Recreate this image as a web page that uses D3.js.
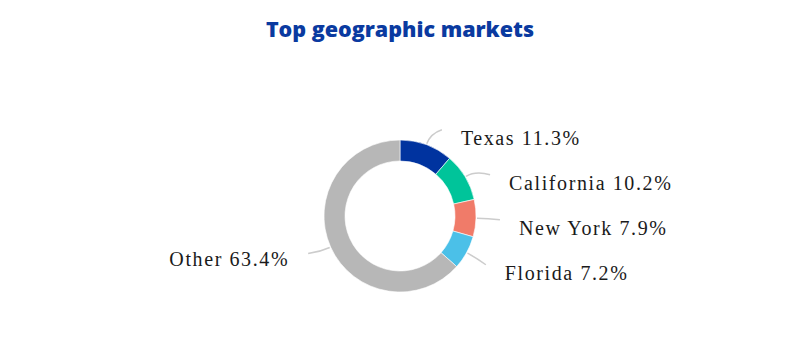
<!DOCTYPE html>
<html>
<head>
<meta charset="utf-8">
<script src="https://cdn.jsdelivr.net/npm/d3@7"></script>
<style>
  body { margin: 0; background: #fff; }
</style>
</head>
<body>
<div id="chart"></div>
<script>
const markets = ["Texas", "California", "New York", "Florida", "Other"];
const shares = [11.3, 10.2, 7.9, 7.2, 63.4];
const labels = ["Texas 11.3%", "California 10.2%", "New York 7.9%", "Florida 7.2%", "Other 63.4%"];
const colors = ["#00339f", "#00c49a", "#f07b69", "#4bc0e8", "#b7b7b7"];

const width = 800, height = 352;
const cx = 400, cy = 216;
const outerR = 76, innerR = 55;

const svg = d3.select("#chart").append("svg")
    .attr("width", width)
    .attr("height", height);

svg.append("text")
    .attr("x", width / 2)
    .attr("y", 37)
    .attr("text-anchor", "middle")
    .attr("fill", "#0a3aa0")
    .style("font-family", "'Open Sans', sans-serif")
    .style("font-weight", 800)
    .style("font-size", "21.5px")
    .text("Top geographic markets");

const data = markets.map((m, i) => ({ name: m, value: shares[i], label: labels[i], color: colors[i] }));

const pie = d3.pie().sort(null).value(d => d.value);
const arcs = pie(data);

const arc = d3.arc().innerRadius(innerR).outerRadius(outerR);

const g = svg.append("g").attr("transform", `translate(${cx},${cy})`);

g.selectAll("path.slice")
    .data(arcs)
    .enter().append("path")
    .attr("class", "slice")
    .attr("d", arc)
    .attr("fill", d => d.data.color)
    .attr("stroke", "#fff")
    .attr("stroke-width", 0.6);

// label layout: ideal y from mid angle, then spread out on each side
const polar = (r, a) => [r * Math.sin(a), -r * Math.cos(a)];
const rx = 100, ry = 95, gap = 45;
arcs.forEach(d => {
    d.mid = (d.startAngle + d.endAngle) / 2;
    d.side = Math.sin(d.mid) >= 0 ? 1 : -1;
    d.ly = polar(92, d.mid)[1];
});
[1, -1].forEach(side => {
    const group = arcs.filter(d => d.side === side).sort((a, b) => a.ly - b.ly);
    for (let i = 1; i < group.length; i++) {
        if (group[i].ly - group[i - 1].ly < gap) group[i].ly = group[i - 1].ly + gap;
    }
});
arcs.forEach(d => {
    const t = Math.max(-1, Math.min(1, d.ly / ry));
    d.lx = d.side * rx * Math.sqrt(1 - t * t);
});

g.selectAll("path.leader")
    .data(arcs)
    .enter().append("path")
    .attr("class", "leader")
    .attr("fill", "none")
    .attr("stroke", "#cccccc")
    .attr("stroke-width", 1.5)
    .attr("d", d => {
        const s = polar(77, d.mid), c = polar(88, d.mid);
        const p = d3.path();
        p.moveTo(s[0], s[1]);
        p.quadraticCurveTo(c[0], c[1], d.lx, d.ly);
        return p.toString();
    });

g.selectAll("text.label")
    .data(arcs)
    .enter().append("text")
    .attr("class", "label")
    .attr("x", d => d.lx + d.side * 19)
    .attr("y", d => d.ly + (d.side > 0 ? 8 : 5))
    .attr("dy", "0.35em")
    .attr("text-anchor", d => d.side > 0 ? "start" : "end")
    .attr("fill", "#1a1a1a")
    .style("font-family", "'Liberation Serif', serif")
    .style("font-size", "20px")
    .style("letter-spacing", "1.6px")
    .text(d => d.data.label);
</script>
</body>
</html>
